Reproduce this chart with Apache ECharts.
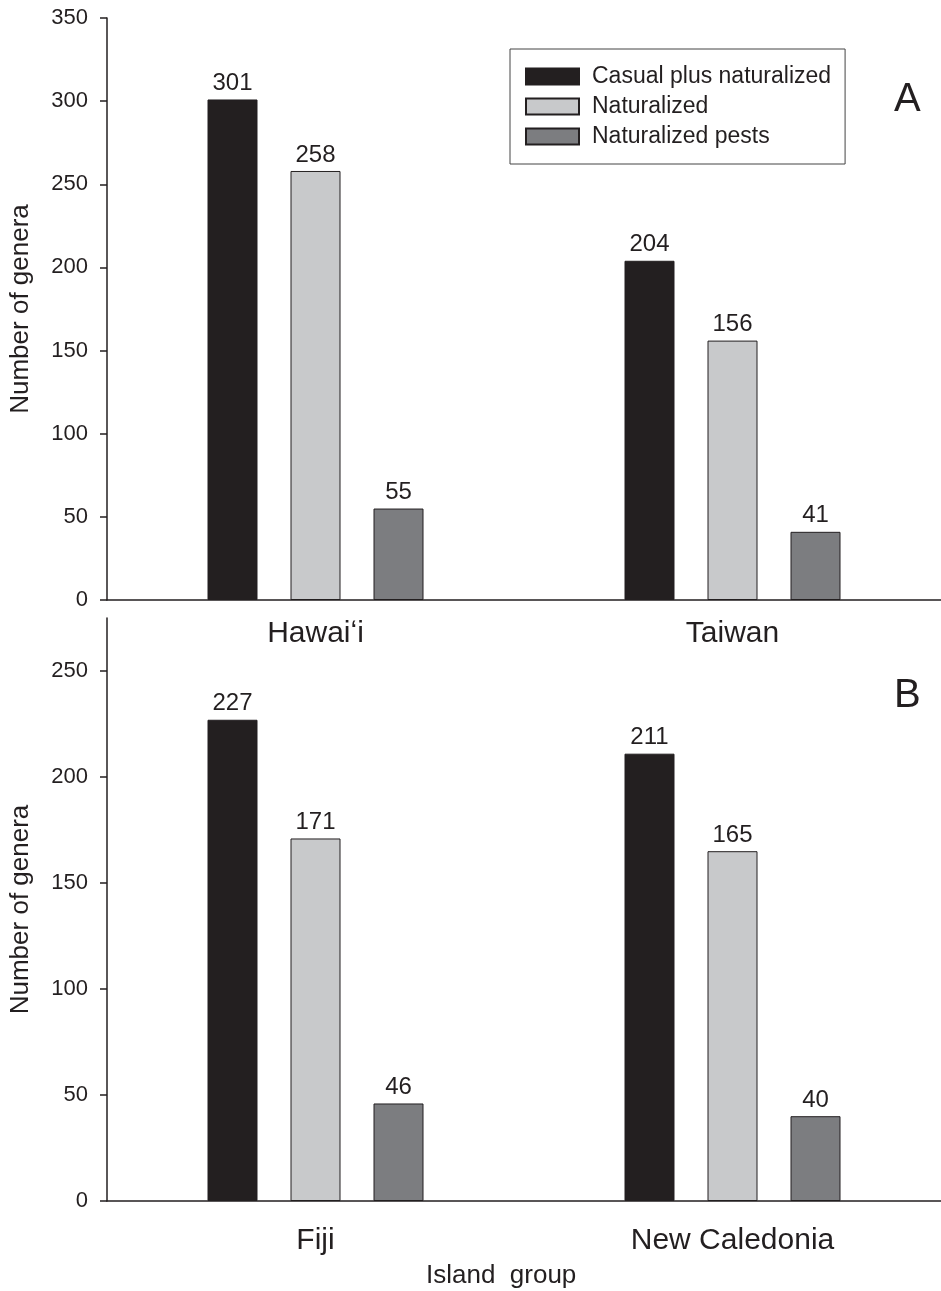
<!DOCTYPE html>
<html>
<head>
<meta charset="utf-8">
<script src="https://cdn.jsdelivr.net/npm/echarts@6/dist/echarts.min.js"></script>
<style>
  body { margin: 0; background: #fff; }
  #chart { width: 941px; height: 1291px; }
</style>
</head>
<body>
<div id="chart"></div>
<script>
// data
var seriesNames = ['Casual plus naturalized', 'Naturalized', 'Naturalized pests'];
var islandsA = ['Hawai\u02bbi', 'Taiwan'];
var islandsB = ['Fiji', 'New Caledonia'];
var casualA = [301, 204];
var naturalA = [258, 156];
var pestsA = [55, 41];
var casualB = [227, 211];
var naturalB = [171, 165];
var pestsB = [46, 40];
var ticksA = [0, 50, 100, 150, 200, 250, 300, 350];
var ticksB = [0, 50, 100, 150, 200, 250];

var ink = '#231f20';
var colors = ['#231f20', '#c8c9cb', '#7c7d80'];
var font = "'Liberation Sans', Arial, sans-serif";

var chart = echarts.init(document.getElementById('chart'), null, { renderer: 'canvas' });

function xAxis(idx, cats, margin) {
  return {
    type: 'category', gridIndex: idx, data: cats,
    axisLine: { lineStyle: { color: ink, width: 1.5 } },
    axisTick: { alignWithLabel: true, length: 8, lineStyle: { color: ink, width: 1.5 } },
    axisLabel: { color: ink, fontSize: 30, fontFamily: font, margin: margin, interval: 0 },
    splitLine: { show: false }
  };
}
function yAxis(idx, max, ticks) {
  return {
    type: 'value', gridIndex: idx, min: 0, max: max, interval: 50,
    name: 'Number of genera', nameLocation: 'middle', nameGap: 73, nameRotate: 90,
    nameTextStyle: { color: ink, fontSize: 26, fontFamily: font },
    axisLine: { show: true, lineStyle: { color: ink, width: 1.5 } },
    axisTick: { show: true, length: 7, customValues: ticks, lineStyle: { color: ink, width: 1.5 } },
    axisLabel: { color: ink, fontSize: 22, fontFamily: font, margin: 19, customValues: ticks },
    splitLine: { show: false }
  };
}
function bar(name, data, idx, color) {
  return {
    name: name, type: 'bar', xAxisIndex: idx, yAxisIndex: idx, data: data,
    barWidth: 50, barGap: '66%',
    itemStyle: { color: color, borderColor: ink, borderWidth: 1 },
    label: { show: true, position: 'top', distance: 4, color: ink, fontSize: 24, fontFamily: font },
    animation: false
  };
}

var series = [];
var groupsA = [casualA, naturalA, pestsA];
var groupsB = [casualB, naturalB, pestsB];
for (var i = 0; i < 3; i++) series.push(bar(seriesNames[i], groupsA[i], 0, colors[i]));
for (var j = 0; j < 3; j++) series.push(bar(seriesNames[j], groupsB[j], 1, colors[j]));

var option = {
  backgroundColor: '#fff',
  animation: false,
  grid: [
    { left: 107, right: 0, top: 18, height: 582 },
    { left: 107, right: 0, top: 618, height: 583 }
  ],
  xAxis: [xAxis(0, islandsA, 19), xAxis(1, islandsB, 25)],
  yAxis: [yAxis(0, 350, ticksA), yAxis(1, 275, ticksB)],
  legend: {
    data: seriesNames, orient: 'vertical', left: 510, top: 49,
    icon: 'rect', itemWidth: 53, itemHeight: 16, itemGap: 7,
    padding: [16, 14, 16, 15],
    borderColor: '#444', borderWidth: 1, selectedMode: false,
    textStyle: { color: ink, fontSize: 23, fontFamily: font, padding: [0, 0, 0, 8] }
  },
  graphic: [
    { type: 'text', left: 894, top: 80, style: { text: 'A', fill: ink, font: '40px ' + font } },
    { type: 'text', left: 894, top: 676, style: { text: 'B', fill: ink, font: '40px ' + font } },
    { type: 'text', left: 426, top: 1263, style: { text: 'Island  group', fill: ink, font: '26px ' + font } }
  ],
  series: series
};
chart.setOption(option);
</script>
</body>
</html>
